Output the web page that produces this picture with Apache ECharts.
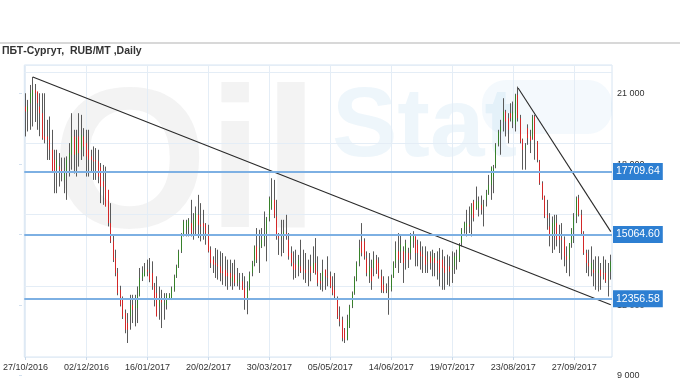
<!DOCTYPE html>
<html><head><meta charset="utf-8">
<script src="https://cdn.jsdelivr.net/npm/echarts/dist/echarts.min.js"></script>
<style>html,body{margin:0;padding:0;background:#fff}#c{width:680px;height:380px}</style>
</head><body><div id="c"></div>
<script>
const chartTitle = 'ПБТ-Сургут,  RUB/MT ,Daily';
const startDate = '2016-10-27';
const endDate = '2017-10-18';
const holidays = ['2016-11-04','2017-01-02','2017-01-03','2017-01-04','2017-01-05','2017-01-06','2017-01-09',
  '2017-02-23','2017-02-24','2017-03-08','2017-05-01','2017-05-08','2017-05-09','2017-06-12'];

const opens = [20450,20240,20590,20870,21150,21080,20450,20170,19190,19190,
 19050,18630,18210,17790,17930,17790,17360,17650,18210,18420,
 19190,18420,19190,18630,19190,18910,18630,18350,18210,18200,
 18140,17900,17300,17080,16940,15540,14770,14070,13440,12730,
 12310,11750,11330,11610,12100,11960,11960,12520,13230,13300,
 13580,13440,13440,12870,12600,12030,12310,12100,12100,12380,
 12380,12730,13300,13720,14350,15050,15260,15400,15540,15260,
 15400,15890,15470,15540,15470,15120,14420,14000,13860,13790,
 13720,13500,13580,13440,13440,13085,13370,13020,13100,13090,
 12800,12380,12800,13440,13860,14560,14400,14560,14840,15120,
 15750,16170,16520,15820,14980,14900,14980,15120,14840,14280,
 13860,13790,13720,13720,13580,13580,13500,13720,13580,13860,
 13500,13100,13090,13580,13300,13300,12880,12730,12310,11610,
 11470,11050,10630,11190,12030,12590,13160,13860,14770,14770,
 14070,13300,13650,13650,14000,13860,13300,12950,12730,12660,
 12730,13300,13860,14350,14350,14350,14280,14280,14280,14770,
 14980,14630,14350,14210,14140,13930,14140,13930,14070,13930,
 14000,14000,13720,13580,13720,13580,13720,14000,14000,14700,
 15260,15400,15470,15900,16450,16170,16170,16310,16240,16520,
 16800,17150,17500,17920,18840,19400,19820,20240,19960,20170,
 19820,19700,20940,19960,19050,18700,19540,19200,19120,20030,
 18980,18140,17220,16660,15890,15400,14980,15400,15540,14980,
 14910,14840,14140,14000,14700,15260,15820,16590,15890,15120,
 14280,13860,13580,13580,13500,13440,13580,13440,13440,13160,
 13500];
const closes = [20240,20450,21010,21150,21010,20590,20170,19120,19050,19050,
 18630,17650,17650,18210,17790,17650,17650,18210,18490,19190,
 18420,19120,18490,19260,18770,18350,18210,18210,18140,18140,
 17500,17080,17080,16240,15540,14770,14000,13440,12590,12100,
 11610,11050,11050,12100,11890,12030,12520,13230,13440,13580,
 13500,13160,12870,12310,11610,12310,12200,12170,12520,12520,
 12800,13300,13720,14350,15050,15610,15610,15680,15120,15680,
 15960,15470,15400,15400,15120,14350,13860,13790,13790,13720,
 13440,13440,13300,13300,13230,13300,13020,13160,13160,12730,
 12380,12800,13400,13860,14560,14000,14500,14840,15120,15750,
 16590,16520,15820,14980,14900,14950,15190,14980,14140,13860,
 13580,13580,14000,13500,13550,13440,13520,13440,13860,13440,
 13020,13000,13500,13300,13250,12880,12600,12450,11610,11400,
 10700,10630,11470,12030,12590,13230,13860,14490,14280,14140,
 13440,13720,13090,14000,13580,13300,12730,12660,12700,12730,
 13300,13860,14420,14000,14630,13860,14700,14000,14980,14980,
 14280,14280,14140,14140,13790,14000,13860,14140,13860,13860,
 13440,13650,13440,13600,13500,13650,14140,14140,14630,15260,
 15540,15540,15400,16240,15750,16450,16450,16100,16300,16800,
 17150,17920,17850,18840,19400,19610,20240,19820,19470,19960,
 20240,20940,19960,18980,18630,18800,19120,19000,20030,19050,
 18210,17220,16590,15820,15750,14980,15540,15680,14840,14840,
 14840,14140,14000,14700,15260,15820,16590,15890,15120,14280,
 13860,13720,13860,13440,13520,13580,13300,13400,13090,13200,
 13930];
const lows = [19190,19400,19470,19610,19800,19470,19200,19050,18900,18200,
 18200,17650,16800,16800,17080,17300,16800,16520,17500,17790,
 17630,17500,17920,18200,18350,17500,17500,17700,17360,17360,
 17220,16380,16310,16240,15400,14700,13900,13300,12500,12030,
 11500,10900,10490,11050,11330,11190,11330,12450,13100,13300,
 13300,13050,12730,12030,11610,11470,11120,11470,11900,12300,
 12300,12650,13230,13650,14280,14980,14980,14980,14980,14840,
 15050,14910,14770,14840,14630,14300,13650,13440,13230,13160,
 13090,12940,12880,12730,12880,12730,12880,12880,12730,12730,
 11890,11700,12700,13300,13720,13860,13440,14490,14560,13930,
 15610,16100,15750,14840,14200,14140,14280,14840,14000,13720,
 13160,13230,13300,13440,13160,13020,12880,13090,13440,13370,
 12880,12730,12660,12730,12880,12800,12500,12380,11500,11190,
 10560,10490,10600,11120,11960,12520,13090,13720,14140,14000,
 13300,13020,12730,13300,13400,13200,12600,12590,12590,11680,
 12660,13230,13650,13440,13860,13020,13580,13650,14000,14500,
 13720,13720,13580,13440,13440,13440,13580,13300,13300,13160,
 12880,12730,12730,12940,12880,13020,13400,13580,13900,14560,
 15100,14980,15120,14980,15610,16100,15820,15900,15400,16240,
 16730,16520,16800,17850,18770,18420,19400,19190,18900,19820,
 19540,19400,19820,18900,17790,17790,18840,18490,19050,18210,
 18100,17150,16520,15750,15260,14560,14280,14420,14560,14280,
 14000,13720,13440,13300,14500,14700,15540,15820,15050,14200,
 13440,13300,13300,12880,12730,12660,12730,13160,13020,12450,
 13160];
const highs = [21010,20730,21360,21700,21400,21080,21010,21010,21010,19890,
 20030,19470,18630,18630,18490,18300,18300,18350,18910,20170,
 19470,19470,20170,20100,19540,19470,19470,18630,18770,18700,
 18630,18070,17990,17920,16940,16380,15000,14420,13650,12900,
 12450,11900,11750,12520,12520,12520,12870,13650,13720,13860,
 14000,14070,13930,13020,13300,12870,12730,12590,12590,12590,
 12870,13370,13790,14420,15120,15680,15680,15750,16520,15960,
 16240,16730,16380,16100,15540,15470,14560,14140,14490,14420,
 14350,14280,14140,14000,14000,13860,14000,13650,13440,13440,
 13300,13090,13500,13950,14600,15330,15260,15330,16030,15800,
 16660,17430,17360,16520,15120,15680,15680,15890,15120,14560,
 14350,14420,14200,14840,14420,14280,14000,14210,14560,14910,
 14140,13440,14000,13580,14140,13500,13300,13440,12450,12030,
 11600,11120,11680,12100,12660,13300,13930,14840,15540,14900,
 14350,14280,14000,14350,14200,14100,13580,13300,13000,13300,
 13370,13930,14770,15120,15050,14560,14840,14500,15120,15200,
 14980,14840,14770,14560,14560,14350,14350,14420,14280,14350,
 14490,14420,14140,14210,14140,14350,14300,14420,14700,15330,
 15600,16100,16240,16380,16520,17080,16660,16700,16520,16940,
 17570,17920,17990,18910,19470,19890,20800,20310,20170,20590,
 20660,20990,21290,20100,19100,18910,19700,19470,20100,20100,
 19000,18200,17300,16700,16520,15960,15820,15890,15890,15470,
 15540,14980,14560,14700,15330,15960,16660,16730,16100,15200,
 14420,14420,14560,14000,14140,14140,13860,14140,14000,13860,
 14210];

const levels = [17709.64, 15064.60, 12356.58];
// trend lines: [startIndex, startValue, endIndex, endValue]
const trendLines = [[3, 21690, 240, 12100], [202, 21230, 240, 15180]];

function tradingDays(start, end, skip) {
  const out = [];
  const d = new Date(start + 'T00:00:00Z');
  const e = new Date(end + 'T00:00:00Z');
  while (d <= e) {
    const wd = d.getUTCDay();
    const iso = d.toISOString().slice(0, 10);
    if (wd !== 0 && wd !== 6 && skip.indexOf(iso) < 0) {
      out.push(iso.slice(8, 10) + '/' + iso.slice(5, 7) + '/' + iso.slice(0, 4));
    }
    d.setUTCDate(d.getUTCDate() + 1);
  }
  return out;
}
const dates = tradingDays(startDate, endDate, holidays);

const ohlc = opens.map((o, i) => [o, closes[i], lows[i], highs[i]]);
const bodies = opens.map((o, i) => [o, closes[i], Math.min(o, closes[i]), Math.max(o, closes[i])]);
const fmtThousands = v => String(v).replace(/\B(?=(\d{3})+(?!\d))/g, ' ');
const FONT = 'Liberation Sans';

const chart = echarts.init(document.getElementById('c'), null, {renderer: 'canvas', width: 680, height: 380});
chart.setOption({
  animation: false,
  title: {text: chartTitle, left: 2, top: 46, padding: 0, textStyle: {fontSize: 10.5, fontWeight: 'bold', color: '#333', fontFamily: FONT}},
  graphic: [
    {type: 'line', z: 0, shape: {x1: 0, y1: 43, x2: 680, y2: 43}, style: {stroke: '#cbcbcb', lineWidth: 1.5}},
    {type: 'text', z: 0, silent: true, x: 52, y: 272, style: {text: 'Oil', font: 'bold 200px "Liberation Sans"', fill: 'rgba(90,90,90,0.075)', verticalAlign: 'bottom'}},
    {type: 'text', z: 0, silent: true, x: 332, y: 178, style: {text: 'Stat', font: 'bold 98px "Liberation Sans"', fill: 'rgba(70,150,215,0.09)', verticalAlign: 'bottom'}},
    {type: 'rect', z: 0, silent: true, shape: {x: 482, y: 80, width: 130, height: 54, r: 24}, style: {fill: 'rgba(70,150,215,0.06)'}}
  ],
  grid: [
    {left: 22, right: 68, top: 65, bottom: 23, show: true, borderColor: '#d6e4f2', borderWidth: 1},
    {left: 22, right: 68, top: 93.6, bottom: 1.2}
  ],
  xAxis: [
    {type: 'category', gridIndex: 0, data: dates, boundaryGap: true,
     axisLine: {show: false},
     axisTick: {show: true, alignWithLabel: true, interval: 24, length: 3, lineStyle: {color: '#c9d9ea'}},
     axisLabel: {interval: 24, fontSize: 9, color: '#333', margin: 6, fontFamily: FONT},
     splitLine: {show: true, interval: 24, alignWithLabel: true, lineStyle: {color: '#e4edf6'}}},
    {type: 'value', gridIndex: 1, show: false}
  ],
  yAxis: [
    {type: 'value', gridIndex: 0, min: 9900, max: 22200, interval: 3000, position: 'right',
     axisLabel: {show: false}, axisLine: {show: false}, axisTick: {show: false},
     splitLine: {show: true, lineStyle: {color: '#e4edf6'}}},
    {type: 'value', gridIndex: 1, min: 9000, max: 21000, interval: 3000, position: 'right',
     axisLine: {show: false}, axisTick: {show: false}, splitLine: {show: false},
     axisLabel: {formatter: fmtThousands, fontSize: 9, color: '#333', margin: 5, fontFamily: FONT}},
    {type: 'value', gridIndex: 1, min: 9000, max: 21000, interval: 3000, position: 'left',
     axisLine: {show: false}, axisTick: {show: true, length: 3, lineStyle: {color: '#d3e1ef'}},
     axisLabel: {show: false}, splitLine: {show: false}}
  ],
  series: [
    {type: 'candlestick', name: 'wick', xAxisIndex: 0, yAxisIndex: 0, data: ohlc, barWidth: 1, silent: true,
     itemStyle: {color: '#5a5a5a', color0: '#5a5a5a', borderColor: '#5a5a5a', borderColor0: '#5a5a5a', borderWidth: 1},
     markLine: {silent: true, symbol: ['none', 'none'], animation: false, label: {show: false},
       lineStyle: {color: '#2a2a2a', width: 1.1, type: 'solid'},
       data: trendLines.map(t => [{coord: [dates[t[0]], t[1]]}, {coord: [dates[t[2]], t[3]]}])}},
    {type: 'candlestick', name: 'body', xAxisIndex: 0, yAxisIndex: 0, data: bodies, barWidth: 1.2, silent: true,
     itemStyle: {color: '#2f8c1f', color0: '#f21c1c', borderColor: '#2f8c1f', borderColor0: '#f21c1c', borderWidth: 0.8},
     markLine: {silent: true, symbol: ['none', 'none'], animation: false,
       lineStyle: {color: '#7db0e3', width: 2, type: 'solid'},
       label: {show: true, position: 'end', distance: 1, formatter: p => p.value.toFixed(2),
         backgroundColor: '#2d7fd2', color: '#fff', fontSize: 10.5, fontFamily: FONT,
         padding: [3, 3, 2, 3], lineHeight: 12},
       data: levels.map(v => ({yAxis: v}))}}
  ]
});
</script>
</body></html>
